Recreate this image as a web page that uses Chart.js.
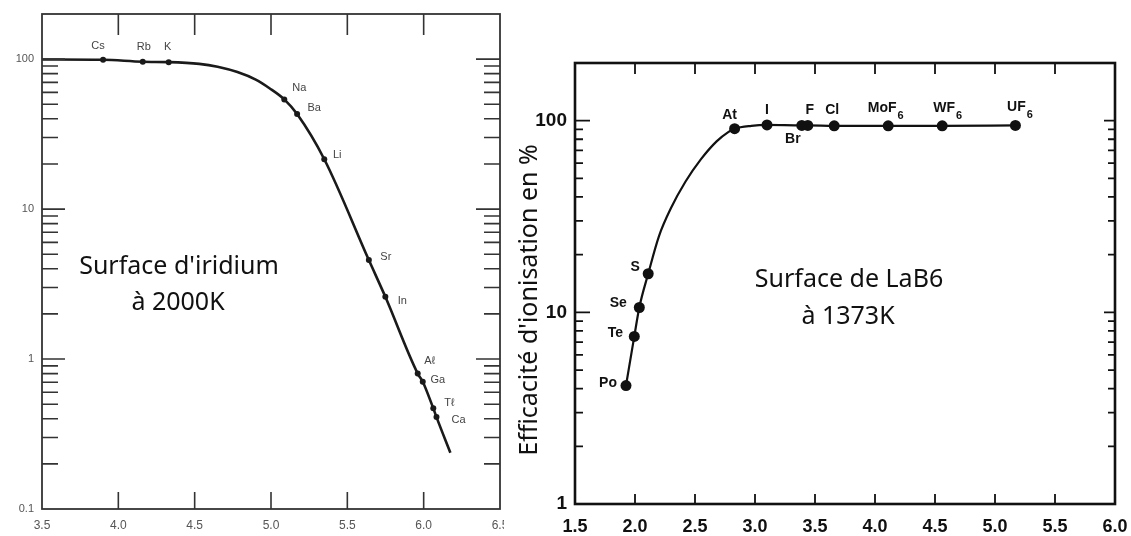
<!DOCTYPE html>
<html>
<head>
<meta charset="utf-8">
<script src="https://cdn.jsdelivr.net/npm/chart.js@4.4.1/dist/chart.umd.min.js"></script>
<style>
  body { margin: 0; background: #fff; width: 1131px; height: 536px; overflow: hidden; position: relative; }
  #chartL { position: absolute; left: 0; top: 0; }
  #chartR { position: absolute; left: 506px; top: 0; }
</style>
</head>
<body>
<canvas id="chartL" width="504" height="536"></canvas>
<canvas id="chartR" width="625" height="536"></canvas>
<script>
// --- left: iridium surface at 2000 K ---
const irNames = ['Cs', 'Rb', 'K', 'Na', 'Ba', 'Li', 'Sr', 'In', 'Aℓ', 'Ga', 'Tℓ', 'Ca'];
const irX = [3.90, 4.16, 4.33, 5.087, 5.171, 5.349, 5.641, 5.749, 5.961, 5.994, 6.063, 6.084];
const irY = [99, 96, 95.5, 53.9, 43, 21.5, 4.57, 2.6, 0.80, 0.706, 0.469, 0.41];
const irCurveX = [3.5, 3.90, 4.16, 4.33, 4.53, 4.65, 4.78, 4.90, 4.99, 5.087, 5.171, 5.349, 5.641, 5.749, 5.961, 5.994, 6.063, 6.084, 6.175];
const irCurveY = [99.5, 99, 96, 95.5, 93, 89, 82, 73, 64, 53.9, 43, 21.5, 4.57, 2.6, 0.80, 0.706, 0.469, 0.41, 0.237];
const irYTicks = [0.1, 1, 10, 100];

// --- right: LaB6 surface at 1373 K ---
const lbNames = ['Po', 'Te', 'Se', 'S', 'At', 'I', 'Br', 'F', 'Cl', 'MoF', 'WF', 'UF'];
const lbSubs = ['', '', '', '', '', '', '', '', '', '6', '6', '6'];
const lbX = [1.925, 1.994, 2.036, 2.11, 2.83, 3.10, 3.39, 3.44, 3.66, 4.11, 4.56, 5.17];
const lbY = [4.15, 7.49, 10.6, 15.9, 90.8, 95, 94.5, 94.5, 94, 94, 94, 94.5];
const lbCurveX = [1.925, 1.994, 2.036, 2.11, 2.20, 2.30, 2.42, 2.55, 2.68, 2.78, 2.83, 2.97, 3.10, 3.39, 3.44, 3.66, 4.11, 4.56, 5.17];
const lbCurveY = [4.15, 7.49, 10.6, 15.9, 25, 35, 48, 63, 78, 87.5, 90.8, 94, 95, 94.5, 94.5, 94, 94, 94, 94.5];
const lbYTicks = [1, 10, 100];

// label placement (pixels from each marker)
const irLabelOff = [[-5, -14], [1, -15], [-1, -15], [15, -11], [17, -6], [13, -4], [17, -3], [17, 4], [12, -13], [15, -2], [16, -5], [22, 3]];
const lbLabelOff = [[-18, -2], [-19, -3], [-21, -4], [-13, -7], [-5, -14], [0, -15], [-9, 14], [2, -15], [-2, -16], [-6, -18], [2, -18], [1, -18]];

function pts(xs, ys) { return xs.map((v, i) => ({ x: v, y: ys[i] })); }

function minorTicks(lo, hi) {
  const out = [];
  for (let d = lo; d < hi; d *= 10) {
    for (let m = 2; m <= 9; m++) if (m * d < hi * 0.97) out.push(m * d);
  }
  return out;
}

function frame(o) {
  return {
    id: 'frame',
    afterDatasetsDraw(chart) {
      const { ctx, chartArea: a, scales: { x, y } } = chart;
      ctx.save();
      ctx.strokeStyle = o.color;
      ctx.lineWidth = o.tickWidth;
      ctx.beginPath();
      o.xTicks.forEach(v => {
        const px = x.getPixelForValue(v);
        ctx.moveTo(px, a.bottom); ctx.lineTo(px, a.bottom - o.bottomLen);
        ctx.moveTo(px, a.top); ctx.lineTo(px, a.top + o.topLen);
      });
      o.yMajor.forEach(v => {
        const py = y.getPixelForValue(v);
        ctx.moveTo(a.left, py); ctx.lineTo(a.left + o.leftMajor, py);
        ctx.moveTo(a.right, py); ctx.lineTo(a.right - o.rightMajor, py);
      });
      o.yMinor.forEach(v => {
        const py = y.getPixelForValue(v);
        ctx.moveTo(a.left, py); ctx.lineTo(a.left + o.leftMinor, py);
        ctx.moveTo(a.right, py); ctx.lineTo(a.right - o.rightMinor, py);
      });
      ctx.stroke();
      ctx.lineWidth = o.frameWidth;
      ctx.strokeRect(a.left, a.top, a.right - a.left, a.bottom - a.top);
      ctx.restore();
    }
  };
}

function pointLabels(o) {
  return {
    id: 'pointLabels',
    afterDatasetsDraw(chart) {
      const ctx = chart.ctx;
      const meta = chart.getDatasetMeta(1);
      ctx.save();
      ctx.fillStyle = o.color;
      ctx.textBaseline = 'middle';
      meta.data.forEach((p, i) => {
        const cx = p.x + o.offsets[i][0];
        const cy = p.y + o.offsets[i][1];
        ctx.font = o.font;
        const w = ctx.measureText(o.names[i]).width;
        ctx.textAlign = 'left';
        ctx.fillText(o.names[i], cx - w / 2, cy);
        if (o.subs && o.subs[i]) {
          ctx.font = o.subFont;
          ctx.fillText(o.subs[i], cx + w / 2 + 1, cy + 8);
        }
      });
      ctx.restore();
    }
  };
}

function notes(items) {
  return {
    id: 'notes',
    afterDraw(chart) {
      const ctx = chart.ctx;
      ctx.save();
      ctx.fillStyle = '#111';
      ctx.textAlign = 'center';
      ctx.textBaseline = 'middle';
      items.forEach(t => {
        ctx.save();
        ctx.font = t.font;
        ctx.translate(t.x, t.y);
        if (t.rot) ctx.rotate(t.rot);
        ctx.fillText(t.text, 0, 0);
        ctx.restore();
      });
      ctx.restore();
    }
  };
}

const noteFont = '25px "Noto Sans", sans-serif';

new Chart(document.getElementById('chartL'), {
  type: 'line',
  data: {
    datasets: [
      { data: pts(irCurveX, irCurveY), borderColor: '#1a1a1a', borderWidth: 2.6, pointRadius: 0, cubicInterpolationMode: 'monotone', fill: false },
      { data: pts(irX, irY), showLine: false, pointRadius: 3, pointBackgroundColor: '#1a1a1a', pointBorderWidth: 0 }
    ]
  },
  options: {
    responsive: false,
    animation: false,
    layout: { padding: { top: 14, right: 1, left: 0, bottom: 0 } },
    plugins: { legend: { display: false }, tooltip: { enabled: false } },
    scales: {
      x: {
        type: 'linear', min: 3.5, max: 6.5,
        grid: { display: false, drawTicks: false }, border: { display: false },
        ticks: { stepSize: 0.5, autoSkip: false, maxRotation: 0, padding: 9, color: '#555',
          font: { family: 'Liberation Sans', size: 12 }, callback: v => v.toFixed(1) },
        afterFit(s) { s.height = 27; s.paddingLeft = 0; s.paddingRight = 0; }
      },
      y: {
        type: 'logarithmic', min: 0.1, max: 200,
        grid: { display: false, drawTicks: false }, border: { display: false },
        afterBuildTicks(s) { s.ticks = irYTicks.map(v => ({ value: v })); },
        ticks: { autoSkip: false, padding: 8, color: '#555', font: { family: 'Liberation Sans', size: 11 }, callback: v => String(v) },
        afterFit(s) { s.width = 42; s.paddingTop = 0; s.paddingBottom = 0; }
      }
    }
  },
  plugins: [
    frame({ color: '#333', tickWidth: 1.6, frameWidth: 1.8, xTicks: [4.0, 4.5, 5.0, 5.5, 6.0],
      topLen: 21, bottomLen: 17, yMajor: [1, 10, 100], yMinor: minorTicks(0.1, 200),
      leftMajor: 23, rightMajor: 24, leftMinor: 16, rightMinor: 16 }),
    pointLabels({ names: irNames, offsets: irLabelOff, color: '#444', font: '11px "Liberation Sans", sans-serif' }),
    notes([
      { text: "Surface d'iridium", x: 179, y: 267, font: noteFont },
      { text: 'à 2000K', x: 178, y: 303, font: noteFont }
    ])
  ]
});

new Chart(document.getElementById('chartR'), {
  type: 'line',
  data: {
    datasets: [
      { data: pts(lbCurveX, lbCurveY), borderColor: '#111', borderWidth: 2.2, pointRadius: 0, cubicInterpolationMode: 'monotone', fill: false },
      { data: pts(lbX, lbY), showLine: false, pointRadius: 5.5, pointBackgroundColor: '#111', pointBorderWidth: 0 }
    ]
  },
  options: {
    responsive: false,
    animation: false,
    layout: { padding: { top: 63, right: 16, left: 0, bottom: 0 } },
    plugins: { legend: { display: false }, tooltip: { enabled: false } },
    scales: {
      x: {
        type: 'linear', min: 1.5, max: 6.0,
        grid: { display: false, drawTicks: false }, border: { display: false },
        ticks: { stepSize: 0.5, autoSkip: false, maxRotation: 0, padding: 12, color: '#111',
          font: { family: 'Liberation Sans', size: 18, weight: 'bold' }, callback: v => v.toFixed(1) },
        afterFit(s) { s.height = 32; s.paddingLeft = 0; s.paddingRight = 0; }
      },
      y: {
        type: 'logarithmic', min: 1, max: 200,
        grid: { display: false, drawTicks: false }, border: { display: false },
        afterBuildTicks(s) { s.ticks = lbYTicks.map(v => ({ value: v })); },
        ticks: { autoSkip: false, padding: 8, color: '#111', font: { family: 'Liberation Sans', size: 19, weight: 'bold' }, callback: v => String(v) },
        afterFit(s) { s.width = 69; s.paddingTop = 0; s.paddingBottom = 0; }
      }
    }
  },
  plugins: [
    frame({ color: '#111', tickWidth: 1.8, frameWidth: 2.6, xTicks: [2.0, 2.5, 3.0, 3.5, 4.0, 4.5, 5.0, 5.5],
      topLen: 11, bottomLen: 10, yMajor: [10, 100], yMinor: minorTicks(1, 200),
      leftMajor: 15, rightMajor: 11, leftMinor: 8, rightMinor: 7 }),
    pointLabels({ names: lbNames, subs: lbSubs, offsets: lbLabelOff, color: '#111',
      font: 'bold 14px "Liberation Sans", sans-serif', subFont: 'bold 11px "Liberation Sans", sans-serif' }),
    notes([
      { text: 'Surface de LaB6', x: 343, y: 280, font: noteFont },
      { text: 'à 1373K', x: 342, y: 317, font: noteFont },
      { text: "Efficacité d'ionisation en %", x: 24, y: 300, rot: -Math.PI / 2, font: '25px "Noto Sans", sans-serif' }
    ])
  ]
});
</script>
</body>
</html>
